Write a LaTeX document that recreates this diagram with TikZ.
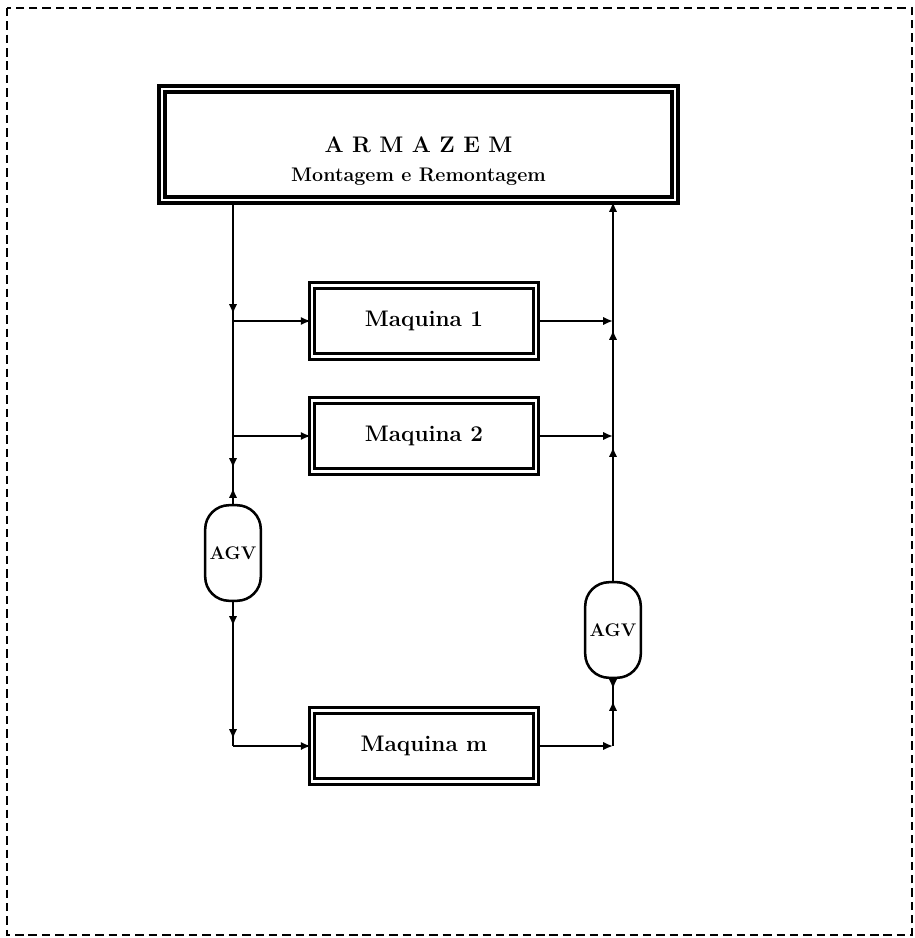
\documentclass[tikz,border=0pt]{standalone}
\usepackage{tikz}
\usetikzlibrary{arrows.meta,positioning,calc}

\begin{document}
\begin{tikzpicture}[
  x=0.025cm, y=-0.025cm,
  >={Latex[length=7pt,width=6pt]},
  font=\bfseries,
  framebox/.style={
    draw,
    line width=1.8pt,
    dash pattern=on 6pt off 3.5pt
  },
  storebox/.style={
    draw,
    double,
    line width=2.6pt,
    double distance=1.8pt,
    minimum width=12.83cm,
    minimum height=2.78cm,
    inner sep=0pt
  },
  machine/.style={
    draw,
    double,
    line width=2.2pt,
    double distance=1.6pt,
    minimum width=5.59cm,
    minimum height=1.78cm,
    inner sep=0pt,
    font=\fontsize{16}{19}\selectfont\bfseries
  },
  agv/.style={
    draw,
    rounded corners=0.6cm,
    line width=1.8pt,
    minimum width=1.39cm,
    minimum height=2.39cm,
    inner sep=0pt,
    font=\fontsize{13}{15}\selectfont\bfseries
  },
  wire/.style={
    line width=1.6pt
  },
  flow/.style={
    ->,
    line width=1.6pt
  }
]
  \useasboundingbox (0,0) rectangle (914,938);

  % Outer dashed frame
  \draw[framebox] (7,8) rectangle (912,935);

  % Storage
  \node[storebox] (arm) at (418.5,144.5) {};
  \node[align=center, font=\fontsize{14}{20.5}\selectfont\bfseries] (armtext) at ($(arm.center)+(0,17)$)
    {{\fontsize{16}{20.5}\selectfont A R M A Z E M}\\
     Montagem e Remontagem};

  % Machines
  \node[machine] (m1) at (424,321) {Maquina 1};
  \node[machine] (m2) at (424,436) {Maquina 2};
  \node[machine] (mm) at (424,746) {Maquina m};

  % Vehicles
  \node[agv] (agvl) at (233,553) {AGV};
  \node[agv] (agvr) at (613,630) {AGV};

  % Junctions on both rails
  \coordinate (jl1) at (m1.west -| agvl.center);
  \coordinate (jl2) at (m2.west -| agvl.center);
  \coordinate (jlm) at (mm.west -| agvl.center);
  \coordinate (jr1) at (m1.east -| agvr.center);
  \coordinate (jr2) at (m2.east -| agvr.center);
  \coordinate (jrm) at (mm.east -| agvr.center);

  % Rails
  \draw[wire] (arm.south -| jl1) -- (agvl.north);
  \draw[wire] (agvl.south) -- (jlm);
  \draw[wire] (agvr.north) -- (agvr.north |- arm.south);
  \draw[wire] (agvr.south) -- (jrm);

  % Left rail: supply side
  \draw[flow] (arm.south -| jl1) -- ($(jl1)+(0,-7)$);
  \draw[flow] (jl1) -- (m1.west);
  \draw[flow] (jl2) -- (m2.west);
  \draw[flow] (jl2) -- ($(jl2)+(0,32)$);
  \draw[flow] (agvl.north) -- ($(agvl.north)+(0,-16)$);
  \draw[flow] (agvl.south) -- ($(agvl.south)+(0,24)$);
  \draw[flow] (agvl.south) -- ($(jlm)+(0,-7)$);
  \draw[flow] (jlm) -- (mm.west);

  % Right rail: return side
  \draw[flow] (m1.east) -- (jr1);
  \draw[flow] (m2.east) -- (jr2);
  \draw[flow] (mm.east) -- (jrm);
  \draw[flow] (jr1) -- (jr1 |- arm.south);
  \draw[flow] (jr2) -- ($(jr1)+(0,9)$);
  \draw[flow] (agvr.north) -- ($(jr2)+(0,11)$);
  \draw[flow] (jrm) -- ($(jrm)+(0,-45)$);
  \draw[flow] (agvr.south) -- ($(agvr.south)+(0,10)$);

\end{tikzpicture}
\end{document}
